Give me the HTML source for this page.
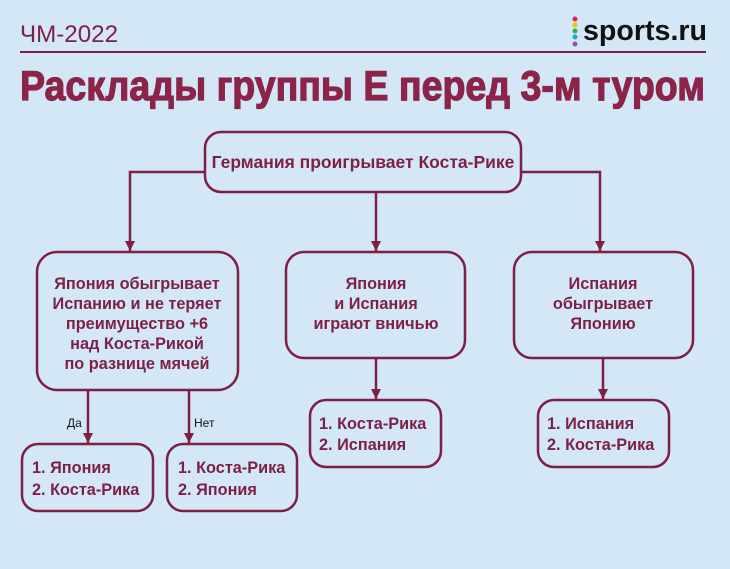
<!DOCTYPE html>
<html><head><meta charset="utf-8"><style>
html,body{margin:0;padding:0;background:#d3e7f6;}
svg{display:block}
.t{font-family:"Liberation Sans","Noto Sans CJK SC",sans-serif;font-weight:bold;fill:#7e1f45;font-size:16.3px;}
</style></head><body>
<svg width="730" height="569" viewBox="0 0 730 569" xmlns="http://www.w3.org/2000/svg">
<defs><marker id="a" markerWidth="12" markerHeight="12" refX="10" refY="5" orient="auto" markerUnits="userSpaceOnUse"><path d="M0,0 L10,5 L0,10 Z" fill="#7e1f45"/></marker></defs>
<rect width="730" height="569" fill="#d3e7f6"/>
<text x="20" y="42" font-family="Liberation Sans Narrow,Liberation Sans,sans-serif" font-size="24" fill="#7e1f45" textLength="98" lengthAdjust="spacingAndGlyphs">ЧМ-2022</text>
<g>
<circle cx="575" cy="19" r="2.5" fill="#e0206a"/><circle cx="575" cy="25" r="2.5" fill="#f5c400"/><circle cx="575" cy="31" r="2.5" fill="#2bb34a"/><circle cx="575" cy="37" r="2.5" fill="#1ea5e0"/><circle cx="575" cy="44" r="2.5" fill="#8a5aa8"/>
</g>
<text x="583" y="40" font-family="Liberation Sans,sans-serif" font-weight="bold" font-size="29" fill="#111" textLength="124" lengthAdjust="spacingAndGlyphs">sports.ru</text>
<rect x="20" y="51" width="686" height="2" fill="#7e1f45"/>
<text x="20" y="100" font-family="Liberation Sans Narrow,Liberation Sans,sans-serif" font-weight="bold" font-size="42" fill="#8b2448" stroke="#8b2448" stroke-width="1.2" textLength="685" lengthAdjust="spacingAndGlyphs">Расклады группы Е перед 3-м туром</text>

<g fill="none" stroke="#7e1f45" stroke-width="2.5">
<rect x="205" y="132" width="316" height="60" rx="16"/>
<rect x="37" y="252" width="201" height="138" rx="20"/>
<rect x="286" y="252" width="179" height="106" rx="18"/>
<rect x="514" y="252" width="179" height="106" rx="18"/>
<rect x="310" y="400" width="131" height="67" rx="16"/>
<rect x="538" y="400" width="131" height="67" rx="16"/>
<rect x="22" y="444" width="131" height="67" rx="16"/>
<rect x="167" y="444" width="130" height="67" rx="16"/>
<path d="M205,172 H130 V251" marker-end="url(#a)"/>
<path d="M521,172 H600 V251" marker-end="url(#a)"/>
<path d="M376,192 V251" marker-end="url(#a)"/>
<path d="M376,358 V399" marker-end="url(#a)"/>
<path d="M603,358 V399" marker-end="url(#a)"/>
<path d="M88,390 V443" marker-end="url(#a)"/>
<path d="M189,390 V443" marker-end="url(#a)"/>
</g>

<g class="t" text-anchor="middle">
<text x="363" y="168" style="font-size:17.5px">Германия проигрывает Коста-Рике</text>
<text x="137" y="289">Япония обыгрывает</text>
<text x="137" y="309">Испанию и не теряет</text>
<text x="137" y="329">преимущество +6</text>
<text x="137" y="349">над Коста-Рикой</text>
<text x="137" y="369">по разнице мячей</text>
<text x="376" y="289">Япония</text>
<text x="376" y="309">и Испания</text>
<text x="376" y="329">играют вничью</text>
<text x="603" y="289">Испания</text>
<text x="603" y="309">обыгрывает</text>
<text x="603" y="329">Японию</text>
</g>
<g class="t">
<text x="319" y="429">1. Коста-Рика</text>
<text x="319" y="450">2. Испания</text>
<text x="547" y="429">1. Испания</text>
<text x="547" y="450">2. Коста-Рика</text>
<text x="32" y="473">1. Япония</text>
<text x="32" y="495">2. Коста-Рика</text>
<text x="178" y="473">1. Коста-Рика</text>
<text x="178" y="495">2. Япония</text>
</g>
<text x="67" y="427" font-family="Liberation Sans,sans-serif" font-size="12" fill="#111">Да</text>
<text x="194" y="427" font-family="Liberation Sans,sans-serif" font-size="12" fill="#111">Нет</text>
</svg>
</body></html>
